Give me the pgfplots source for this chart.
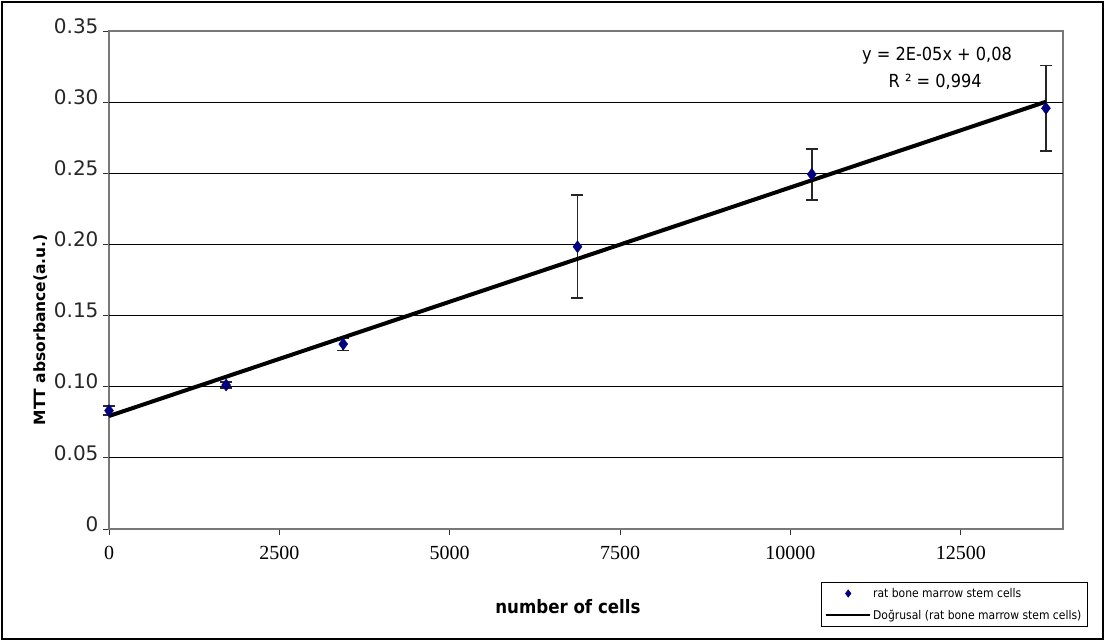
\documentclass[border=0pt]{standalone}
\usepackage{pgfplots}
\usepackage{pgfplotstable}
\pgfplotsset{compat=1.18}
\usepackage{fontspec}
\setmainfont{DejaVu Sans}
\newfontfamily\cond{DejaVu Sans Condensed}
\newfontfamily\serifx{Liberation Serif}
\definecolor{navy}{RGB}{0,0,128}
\definecolor{framec}{RGB}{120,120,120}

\pgfplotstableread{
x y e
0 0.0832 0.003
1718.75 0.1012 0.002
3437.5 0.1300 0.0045
6875 0.1984 0.0363
10312.5 0.2493 0.0180
13750 0.2957 0.0300
}\datatable

\pgfplotstableread{
x y
0 0.0794
13750 0.3003
}\trendtable

\begin{document}
\begin{tikzpicture}
\useasboundingbox (0pt,0pt) rectangle (1105pt,641pt);
\draw[black, line width=2.5pt] (2pt,2pt) rectangle (1103pt,639pt);
\begin{axis}[
  at={(109pt,112pt)}, anchor=south west,
  width=954pt, height=498pt, scale only axis,
  xmin=0, xmax=14000, ymin=0, ymax=0.35,
  scaled x ticks=false, scaled y ticks=false,
  axis line style={draw=framec, line width=1.3pt},
  xtick={0,2500,5000,7500,10000,12500},
  xticklabels={0,2500,5000,7500,10000,12500},
  ytick={0,0.05,0.1,0.15,0.2,0.25,0.3,0.35},
  yticklabels={0,0.05,0.10,0.15,0.20,0.25,0.30,0.35},
  extra y ticks={0.05,0.1,0.15,0.2,0.25,0.3},
  extra y tick labels={},
  extra y tick style={grid=major, major tick length=0pt},
  grid style={black, line width=0.9pt},
  xtick pos=bottom, ytick pos=left, tick align=outside,
  major tick length=6pt,
  tick style={black!80, line width=0.9pt},
  yticklabel style={font=\fontsize{20}{20}\selectfont, text=black!85, xshift=-1pt, yshift=5pt},
  xticklabel style={font=\serifx\fontsize{20}{20}\selectfont, yshift=-8pt},
  xlabel={number of cells},
  xlabel style={font=\cond\bfseries\fontsize{18.5}{18.5}\selectfont, at={(rel axis cs:0.481,-0.155)}, anchor=center},
  ylabel={MTT absorbance(a.u.)},
  ylabel style={font=\bfseries\fontsize{15.5}{15.5}\selectfont, at={(rel axis cs:-0.072,0.40)}, anchor=center},
  legend style={at={(1.026,-0.106)}, anchor=north east, draw=black, line width=0.8pt,
    font=\cond\fontsize{12}{12}\selectfont, row sep=7pt, inner sep=4pt,
    cells={anchor=west}},
  clip=false,
]
\addplot[only marks, mark=diamond*, mark size=6pt, color=navy,
  legend image code/.code={\draw[navy] plot[mark=diamond*, mark size=3.5pt, only marks] coordinates {(22pt,0pt)};},
  error bars/.cd, y dir=both, y explicit,
  error bar style={black!85, line width=1.8pt},
  error mark options={rotate=90, mark size=6pt, line width=1.8pt, black!85},
  ] table[x=x, y=y, y error=e] {\datatable};
\addlegendentry{rat bone marrow stem cells}
\addplot[black, line width=4pt, no marks,
  legend image code/.code={\draw[black, line width=1.8pt] (0pt,0pt) -- (44pt,0pt);}]
  table[x=x, y=y] {\trendtable};
\addlegendentry{Doğrusal (rat bone marrow stem cells)}
\node[font=\cond\fontsize{18}{18}\selectfont] at (rel axis cs:0.868,0.950) {y = 2E-05x + 0,08};
\node[font=\cond\fontsize{18}{18}\selectfont] at (rel axis cs:0.866,0.898) {R ² = 0,994};
\end{axis}
\end{tikzpicture}
\end{document}
